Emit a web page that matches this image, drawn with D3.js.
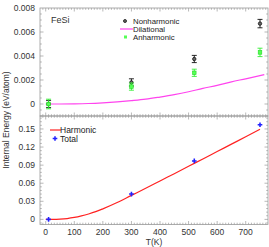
<!DOCTYPE html>
<html>
<head>
<meta charset="utf-8">
<script src="https://cdn.jsdelivr.net/npm/d3@7"></script>
<style>
  body { margin: 0; background: #fff; }
  svg { font-family: "Liberation Sans", Arial, sans-serif; }
</style>
</head>
<body>
<svg id="chart" width="269" height="247"></svg>
<script>
// measured temperatures
const temps = [10, 300, 520, 750];
const nonharmonic = [0, 0.0018, 0.00375, 0.0067];
const nonharmonicErr = [0.0003, 0.0003, 0.0003, 0.00035];
const anharmonic = [0, 0.00145, 0.0026, 0.0043];
const anharmonicErr = [0.0004, 0.0003, 0.0003, 0.00035];
const total = [0, 0.042, 0.097, 0.157];

// curves
const curveT = [0, 25, 50, 75, 100, 125, 150, 175, 200, 250, 300, 350, 400, 450, 500, 550, 600, 650, 700, 750];
const harmonic = [0, 0.00002, 0.0004, 0.0014, 0.0032, 0.0058, 0.009, 0.0128, 0.0175, 0.028, 0.0398, 0.0515, 0.0637, 0.0758, 0.088, 0.1003, 0.1125, 0.1248, 0.137, 0.1495];
const dilT = [0, 50, 100, 150, 200, 250, 300, 350, 400, 450, 500, 550, 600, 650, 700, 765];
const dilational = [0, 0, 0.00001, 0.00004, 0.0001, 0.00018, 0.00028, 0.0004, 0.00058, 0.00078, 0.00102, 0.0013, 0.00155, 0.00185, 0.0021, 0.00245];

const xTicks = [0, 100, 200, 300, 400, 500, 600, 700];
const topTicks = [0, 0.002, 0.004, 0.006, 0.008];
const botTicks = [0, 0.03, 0.06, 0.09, 0.12, 0.15];

const svg = d3.select("#chart");
const left = 40, right = 268;
const frameColor = "#999";
const textColor = "#333";

const x = d3.scaleLinear().domain([-20, 778]).range([left, right]);
const yTop = d3.scaleLinear().domain([-0.001, 0.008]).range([116, 8]);
const yBot = d3.scaleLinear().domain([-0.0085, 0.1715]).range([224.5, 116]);

function frame(y, majors, minorStep, fmt) {
  const g = svg.append("g");
  const [y0, y1] = y.range();
  g.append("rect").attr("x", left).attr("y", y1).attr("width", right - left).attr("height", y0 - y1)
    .attr("fill", "none").attr("stroke", frameColor).attr("stroke-width", 0.8);
  // x minor/major ticks top and bottom
  d3.range(-10, 780, 10).forEach(t => {
    const major = t % 100 === 0;
    const len = major ? 3.5 : 1.8;
    [[y0, -1], [y1, 1]].forEach(([yy, dir]) => {
      g.append("line").attr("x1", x(t)).attr("x2", x(t)).attr("y1", yy).attr("y2", yy + dir * len)
        .attr("stroke", frameColor).attr("stroke-width", 0.7);
    });
  });
  // y ticks left and right
  const [d0, d1] = y.domain();
  const yMinor = d3.range(Math.ceil(d0 / minorStep) * minorStep, d1, minorStep);
  yMinor.forEach(v => {
    const major = majors.some(m => Math.abs(m - v) < minorStep / 10);
    const len = major ? 3.5 : 1.8;
    [[left, 1], [right, -1]].forEach(([xx, dir]) => {
      g.append("line").attr("x1", xx).attr("x2", xx + dir * len).attr("y1", y(v)).attr("y2", y(v))
        .attr("stroke", frameColor).attr("stroke-width", 0.7);
    });
  });
  g.selectAll("text.yt").data(majors).enter().append("text")
    .attr("x", left - 5).attr("y", d => y(d) + 3).attr("text-anchor", "end")
    .attr("font-size", 8.5).attr("fill", textColor).text(fmt);
}

frame(yTop, topTicks, 0.0005, d => d === 0 ? "0" : d3.format(".3f")(d));
frame(yBot, botTicks, 0.006, d => d === 0 ? "0" : d3.format(".2f")(d));

svg.selectAll("text.xt").data(xTicks).enter().append("text")
  .attr("x", d => x(d)).attr("y", 235).attr("text-anchor", "middle")
  .attr("font-size", 8.5).attr("fill", textColor).text(d => d);

svg.append("text").attr("x", (left + right) / 2).attr("y", 245).attr("text-anchor", "middle")
  .attr("font-size", 8.5).attr("fill", textColor).text("T(K)");
svg.append("text").attr("transform", "translate(9,120) rotate(-90)").attr("text-anchor", "middle")
  .attr("font-size", 8.5).attr("fill", textColor).text("Internal Energy (eV/atom)");

// top panel
const dilLine = d3.line().x((d, i) => x(dilT[i])).y(d => yTop(d)).curve(d3.curveMonotoneX);
svg.append("path").attr("d", dilLine(dilational)).attr("fill", "none").attr("stroke", "#ff44ee").attr("stroke-width", 1.2);

function errBars(vals, errs, color) {
  vals.forEach((v, i) => {
    const cx = x(temps[i]);
    const g = svg.append("g").attr("stroke", color).attr("stroke-width", 0.9);
    g.append("line").attr("x1", cx).attr("x2", cx).attr("y1", yTop(v - errs[i])).attr("y2", yTop(v + errs[i]));
    [v - errs[i], v + errs[i]].forEach(e => {
      g.append("line").attr("x1", cx - 2.5).attr("x2", cx + 2.5).attr("y1", yTop(e)).attr("y2", yTop(e));
    });
  });
}
errBars(nonharmonic, nonharmonicErr, "#111");
svg.selectAll("circle.nh").data(nonharmonic).enter().append("circle")
  .attr("cx", (d, i) => x(temps[i])).attr("cy", d => yTop(d)).attr("r", 1.7)
  .attr("fill", "#666").attr("stroke", "#111").attr("stroke-width", 0.8);
errBars(anharmonic, anharmonicErr, "#33ee33");
svg.selectAll("rect.ah").data(anharmonic).enter().append("rect")
  .attr("x", (d, i) => x(temps[i]) - 1.8).attr("y", d => yTop(d) - 1.8).attr("width", 3.6).attr("height", 3.6)
  .attr("fill", "#55ff55").attr("stroke", "#22dd22").attr("stroke-width", 0.6);

// top legend
svg.append("text").attr("x", 51).attr("y", 23).attr("font-size", 9).attr("fill", textColor).text("FeSi");
const leg = [["Nonharmonic", 21], ["Dilational", 29], ["Anharmonic", 37]];
svg.selectAll("text.leg").data(leg).enter().append("text")
  .attr("x", 133).attr("y", d => d[1] + 2.8).attr("font-size", 7.8).attr("fill", "#222").text(d => d[0]);
svg.append("circle").attr("cx", 125).attr("cy", 21).attr("r", 1.5).attr("fill", "#666").attr("stroke", "#111").attr("stroke-width", 0.8);
svg.append("line").attr("x1", 120).attr("x2", 133).attr("y1", 29).attr("y2", 29).attr("stroke", "#ff44ee").attr("stroke-width", 1.2);
svg.append("rect").attr("x", 124).attr("y", 35.5).attr("width", 3).attr("height", 3).attr("fill", "#55ff55");

// bottom panel
const harmLine = d3.line().x((d, i) => x(curveT[i])).y(d => yBot(d)).curve(d3.curveMonotoneX);
svg.append("path").attr("d", harmLine(harmonic)).attr("fill", "none").attr("stroke", "#ff2222").attr("stroke-width", 1.2);
const star = d3.symbol().type(d3.symbolCross).size(12);
svg.selectAll("path.tot").data(total).enter().append("path")
  .attr("d", star).attr("transform", (d, i) => `translate(${x(temps[i])},${yBot(d)})`)
  .attr("fill", "#2222ff");

svg.append("line").attr("x1", 50).attr("x2", 61).attr("y1", 130).attr("y2", 130).attr("stroke", "#ff2222").attr("stroke-width", 1.2);
svg.append("text").attr("x", 60).attr("y", 133).attr("font-size", 8.5).attr("fill", "#222").text("Harmonic");
svg.append("path").attr("d", star).attr("transform", "translate(55,138.5)").attr("fill", "#2222ff");
svg.append("text").attr("x", 60).attr("y", 141.5).attr("font-size", 8.5).attr("fill", "#222").text("Total");
</script>
</body>
</html>
